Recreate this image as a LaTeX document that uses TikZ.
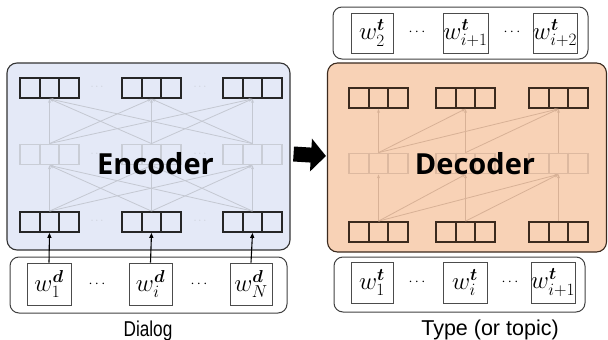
\documentclass[tikz,border=0pt]{standalone}
\usepackage{fontspec}
\setmainfont{Liberation Sans}
\newfontfamily\titlefont{Open Sans}
\usepackage{bm}
\usepackage{graphicx}
\usetikzlibrary{arrows.meta}
\definecolor{encfill}{HTML}{E4E9F7}
\definecolor{decfill}{HTML}{F8D2B6}
\definecolor{decline}{HTML}{3B2A1E}
\definecolor{encfaint}{HTML}{C9CDD6}
\definecolor{decfaint}{HTML}{DDB9A0}
\definecolor{encconn}{HTML}{C4C8D2}
\definecolor{decconn}{HTML}{D8B196}
\tikzset{
  panel/.style={draw, line width=1.1pt, rounded corners=10pt, inner sep=0pt},
  group/.style={draw, line width=1.8pt, minimum width=59pt, minimum height=20pt, inner sep=0pt},
  wordrow/.style={draw=black!75, line width=1pt, rounded corners=9pt, inner sep=0pt},
  wordbox/.style={draw=black!70, line width=0.9pt, minimum height=42pt, inner sep=0pt, font=\fontsize{23}{23}\selectfont},
  conn/.style={line width=0.8pt, -{Stealth[length=4pt,width=3pt]}},
  inarrow/.style={line width=1.1pt, draw=black, -{Triangle[length=5pt,width=4pt]}},
  bigarrow/.style={line width=15pt, -{Triangle[length=15pt,width=32pt]}},
  fdots/.style={font=\fontsize{11}{11}\selectfont},
  wdots/.style={font=\bfseries\fontsize{14}{14}\selectfont},
  title/.style={font=\titlefont\bfseries\fontsize{29}{29}\selectfont, anchor=base},
  caption/.style={font=\fontsize{21.5}{22}\selectfont, anchor=base, inner sep=0pt}
}
\newcommand{\cellsplit}[2]{\draw[line width=1.8pt,#2] ([xshift=-9.83pt]#1.north) -- ([xshift=-9.83pt]#1.south) ([xshift=9.83pt]#1.north) -- ([xshift=9.83pt]#1.south);}
\begin{document}
\begin{tikzpicture}[x=1pt,y=-1pt]
\useasboundingbox (0,0) rectangle (608,340);
% panels
\node[panel, draw=black!80, fill=encfill, minimum width=283pt, minimum height=187pt] (enc) at (148.5,156.5) {};
\node[panel, draw=decline, fill=decfill, minimum width=279pt, minimum height=189pt] (dec) at (467,157.5) {};
% encoder groups
\foreach \i/\x in {1/49.5,2/151.5,3/252.5}{
  \node[group, draw=black!85] (eT\i) at (\x,88) {};
  \cellsplit{eT\i}{black!85}
  \node[group, draw=encfaint] (eM\i) at (\x,154.5) {};
  \cellsplit{eM\i}{encfaint}
  \node[group, draw=black!85] (eB\i) at (\x,222) {};
  \cellsplit{eB\i}{black!85}
}
\foreach \x/\n in {97/a,200/b}{
  \node[fdots, text=encfaint] (edT\n) at (\x,87) {$\cdots$};
  \node[fdots, text=encfaint] (edM\n) at (\x,154) {$\cdots$};
  \node[fdots, text=encfaint] (edB\n) at (\x,221) {$\cdots$};
}
\foreach \i in {1,2,3}{
  \foreach \j in {1,2,3}{
    \draw[conn, draw=encconn] (eB\i.north) -- (eM\j.south);
    \draw[conn, draw=encconn] (eM\i.north) -- (eT\j.south);
  }
}
% decoder groups
\foreach \i/\x in {1/378.5,2/465.5,3/558.5}{
  \node[group, draw=decline] (dT\i) at (\x,98) {};
  \cellsplit{dT\i}{decline}
  \node[group, draw=decfaint] (dM\i) at (\x,163.5) {};
  \cellsplit{dM\i}{decfaint}
  \node[group, draw=decline] (dB\i) at (\x,232) {};
  \cellsplit{dB\i}{decline}
}
\foreach \i/\j in {1/1,1/2,1/3,2/2,2/3,3/3}{
  \draw[conn, draw=decconn] (dB\i.north) -- (dM\j.south);
  \draw[conn, draw=decconn] (dM\i.north) -- (dT\j.south);
}
% titles
\node[title] (enctitle) at (155.5,174) {Encoder};
\node[title] (dectitle) at (475,174) {Decoder};
% big arrow
\draw[bigarrow] ([xshift=3pt,yshift=2.5pt]enc.east) -- ([xshift=-1pt,yshift=1.5pt]dec.west);
% dialog row
\node[wordrow, minimum width=277pt, minimum height=56pt] (dialog) at (148.5,285) {};
\node[wordbox, minimum width=44pt] (d1) at (49,284) {$w_1^{\bm d}$};
\node[wordbox, minimum width=43pt] (di) at (150.5,284) {$w_i^{\bm d}$};
\node[wordbox, minimum width=42pt] (dN) at (251,284) {$w_N^{\bm d}$};
\node[wdots] (dd1) at (97,284) {$\cdots$};
\node[wdots] (dd2) at (199,284) {$\cdots$};
\node[caption] (dialoglabel) at (148,336) {\scalebox{0.8}[1]{Dialog}};
\draw[inarrow] (d1.north) -- (eB1.south);
\draw[inarrow] (di.north) -- (eB2.south);
\draw[inarrow] (dN.north) -- (eB3.south);
% type row
\node[wordrow, minimum width=251pt, minimum height=55pt] (typerow) at (459.5,284.5) {};
\node[wordbox, minimum width=42pt, minimum height=41pt] (t1) at (372,282.5) {$w_1^{\bm t}$};
\node[wordbox, minimum width=44pt, minimum height=41pt] (ti) at (465,282.5) {$w_i^{\bm t}$};
\node[wordbox, minimum width=40pt, minimum height=41pt] (ti1) at (553,282.5) {$w_{i+1}^{\bm t}$};
\node[wdots] (td1) at (417,282) {$\cdots$};
\node[wdots] (td2) at (510,282) {$\cdots$};
\node[caption] (typelabel) at (490,335) {Type (or topic)};
% output row
\node[wordrow, minimum width=255pt, minimum height=52pt] (outrow) at (460.5,33) {};
\node[wordbox, minimum width=42pt, minimum height=40pt] (o1) at (372,33) {$w_2^{\bm t}$};
\node[wordbox, minimum width=45pt, minimum height=40pt] (oi) at (465.5,33) {$w_{i+1}^{\bm t}$};
\node[wordbox, minimum width=44pt, minimum height=40pt] (oi2) at (555,33) {$w_{i+2}^{\bm t}$};
\node[wdots] (od1) at (417,32) {$\cdots$};
\node[wdots] (od2) at (512,32) {$\cdots$};
\end{tikzpicture}
\end{document}
